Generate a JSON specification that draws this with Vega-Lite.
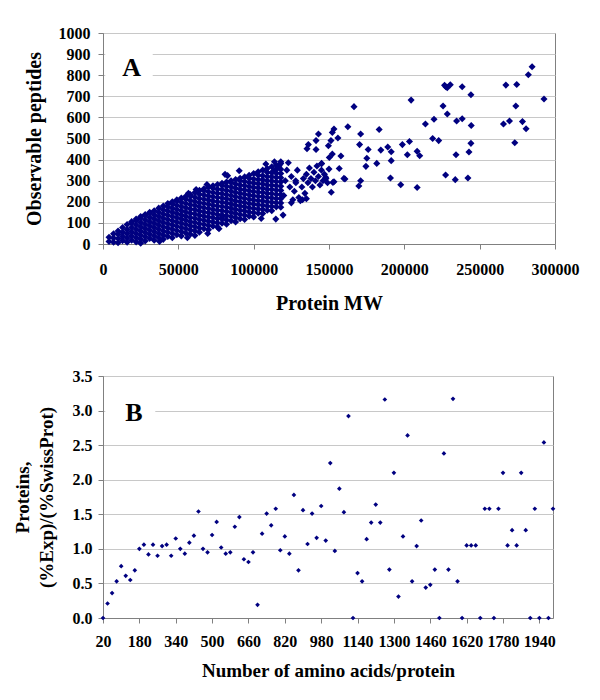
{
  "$schema": "https://vega.github.io/schema/vega-lite/v6.json",
  "background": "white",
  "padding": {"left": 12, "top": 24, "right": 5, "bottom": 5},
  "spacing": 53,
  "datasets": {
    "peptides": [
      {"mw":4000,"peptides":12},{"mw":4000,"peptides":32},
      {"mw":7000,"peptides":8},{"mw":7000,"peptides":28},{"mw":7000,"peptides":48},
      {"mw":10000,"peptides":6},{"mw":10000,"peptides":26},{"mw":10000,"peptides":46},{"mw":10000,"peptides":62},
      {"mw":13000,"peptides":16},{"mw":13000,"peptides":36},{"mw":13000,"peptides":56},{"mw":13000,"peptides":78},
      {"mw":16000,"peptides":8},{"mw":16000,"peptides":28},{"mw":16000,"peptides":48},{"mw":16000,"peptides":68},{"mw":16000,"peptides":92},
      {"mw":19000,"peptides":18},{"mw":19000,"peptides":38},{"mw":19000,"peptides":58},{"mw":19000,"peptides":78},{"mw":19000,"peptides":98},{"mw":19000,"peptides":106},
      {"mw":22000,"peptides":10},{"mw":22000,"peptides":30},{"mw":22000,"peptides":50},{"mw":22000,"peptides":70},{"mw":22000,"peptides":90},{"mw":22000,"peptides":110},{"mw":22000,"peptides":118},
      {"mw":25000,"peptides":22},{"mw":25000,"peptides":42},{"mw":25000,"peptides":62},{"mw":25000,"peptides":82},{"mw":25000,"peptides":102},{"mw":25000,"peptides":122},{"mw":25000,"peptides":130},
      {"mw":28000,"peptides":14},{"mw":28000,"peptides":34},{"mw":28000,"peptides":54},{"mw":28000,"peptides":74},{"mw":28000,"peptides":94},{"mw":28000,"peptides":114},{"mw":28000,"peptides":134},{"mw":28000,"peptides":140},
      {"mw":31000,"peptides":26},{"mw":31000,"peptides":46},{"mw":31000,"peptides":66},{"mw":31000,"peptides":86},{"mw":31000,"peptides":106},{"mw":31000,"peptides":126},{"mw":31000,"peptides":146},{"mw":31000,"peptides":150},
      {"mw":34000,"peptides":18},{"mw":34000,"peptides":38},{"mw":34000,"peptides":58},{"mw":34000,"peptides":78},{"mw":34000,"peptides":98},{"mw":34000,"peptides":118},{"mw":34000,"peptides":138},{"mw":34000,"peptides":158},
      {"mw":37000,"peptides":30},{"mw":37000,"peptides":50},{"mw":37000,"peptides":70},{"mw":37000,"peptides":90},{"mw":37000,"peptides":110},{"mw":37000,"peptides":130},{"mw":37000,"peptides":150},{"mw":37000,"peptides":170},
      {"mw":40000,"peptides":22},{"mw":40000,"peptides":42},{"mw":40000,"peptides":62},{"mw":40000,"peptides":82},{"mw":40000,"peptides":102},{"mw":40000,"peptides":122},{"mw":40000,"peptides":142},{"mw":40000,"peptides":162},{"mw":40000,"peptides":180},
      {"mw":43000,"peptides":36},{"mw":43000,"peptides":56},{"mw":43000,"peptides":76},{"mw":43000,"peptides":96},{"mw":43000,"peptides":116},{"mw":43000,"peptides":136},{"mw":43000,"peptides":156},{"mw":43000,"peptides":176},{"mw":43000,"peptides":192},
      {"mw":46000,"peptides":30},{"mw":46000,"peptides":50},{"mw":46000,"peptides":70},{"mw":46000,"peptides":90},{"mw":46000,"peptides":110},{"mw":46000,"peptides":130},{"mw":46000,"peptides":150},{"mw":46000,"peptides":170},{"mw":46000,"peptides":190},{"mw":46000,"peptides":200},
      {"mw":49000,"peptides":44},{"mw":49000,"peptides":64},{"mw":49000,"peptides":84},{"mw":49000,"peptides":104},{"mw":49000,"peptides":124},{"mw":49000,"peptides":144},{"mw":49000,"peptides":164},{"mw":49000,"peptides":184},{"mw":49000,"peptides":204},{"mw":49000,"peptides":210},
      {"mw":52000,"peptides":38},{"mw":52000,"peptides":58},{"mw":52000,"peptides":78},{"mw":52000,"peptides":98},{"mw":52000,"peptides":118},{"mw":52000,"peptides":138},{"mw":52000,"peptides":158},{"mw":52000,"peptides":178},{"mw":52000,"peptides":198},{"mw":52000,"peptides":218},
      {"mw":55000,"peptides":52},{"mw":55000,"peptides":72},{"mw":55000,"peptides":92},{"mw":55000,"peptides":112},{"mw":55000,"peptides":132},{"mw":55000,"peptides":152},{"mw":55000,"peptides":172},{"mw":55000,"peptides":192},{"mw":55000,"peptides":212},{"mw":55000,"peptides":226},
      {"mw":58000,"peptides":46},{"mw":58000,"peptides":66},{"mw":58000,"peptides":86},{"mw":58000,"peptides":106},{"mw":58000,"peptides":126},{"mw":58000,"peptides":146},{"mw":58000,"peptides":166},{"mw":58000,"peptides":186},{"mw":58000,"peptides":206},{"mw":58000,"peptides":226},{"mw":58000,"peptides":234},
      {"mw":61000,"peptides":62},{"mw":61000,"peptides":82},{"mw":61000,"peptides":102},{"mw":61000,"peptides":122},{"mw":61000,"peptides":142},{"mw":61000,"peptides":162},{"mw":61000,"peptides":182},{"mw":61000,"peptides":202},{"mw":61000,"peptides":222},{"mw":61000,"peptides":244},
      {"mw":64000,"peptides":56},{"mw":64000,"peptides":76},{"mw":64000,"peptides":96},{"mw":64000,"peptides":116},{"mw":64000,"peptides":136},{"mw":64000,"peptides":156},{"mw":64000,"peptides":176},{"mw":64000,"peptides":196},{"mw":64000,"peptides":216},{"mw":64000,"peptides":236},{"mw":64000,"peptides":254},
      {"mw":67000,"peptides":72},{"mw":67000,"peptides":92},{"mw":67000,"peptides":112},{"mw":67000,"peptides":132},{"mw":67000,"peptides":152},{"mw":67000,"peptides":172},{"mw":67000,"peptides":192},{"mw":67000,"peptides":212},{"mw":67000,"peptides":232},{"mw":67000,"peptides":252},{"mw":67000,"peptides":262},
      {"mw":70000,"peptides":68},{"mw":70000,"peptides":88},{"mw":70000,"peptides":108},{"mw":70000,"peptides":128},{"mw":70000,"peptides":148},{"mw":70000,"peptides":168},{"mw":70000,"peptides":188},{"mw":70000,"peptides":208},{"mw":70000,"peptides":228},{"mw":70000,"peptides":248},{"mw":70000,"peptides":270},
      {"mw":73000,"peptides":84},{"mw":73000,"peptides":104},{"mw":73000,"peptides":124},{"mw":73000,"peptides":144},{"mw":73000,"peptides":164},{"mw":73000,"peptides":184},{"mw":73000,"peptides":204},{"mw":73000,"peptides":224},{"mw":73000,"peptides":244},{"mw":73000,"peptides":264},{"mw":73000,"peptides":276},
      {"mw":76000,"peptides":80},{"mw":76000,"peptides":100},{"mw":76000,"peptides":120},{"mw":76000,"peptides":140},{"mw":76000,"peptides":160},{"mw":76000,"peptides":180},{"mw":76000,"peptides":200},{"mw":76000,"peptides":220},{"mw":76000,"peptides":240},{"mw":76000,"peptides":260},{"mw":76000,"peptides":282},
      {"mw":79000,"peptides":98},{"mw":79000,"peptides":118},{"mw":79000,"peptides":138},{"mw":79000,"peptides":158},{"mw":79000,"peptides":178},{"mw":79000,"peptides":198},{"mw":79000,"peptides":218},{"mw":79000,"peptides":238},{"mw":79000,"peptides":258},{"mw":79000,"peptides":278},{"mw":79000,"peptides":288},
      {"mw":82000,"peptides":94},{"mw":82000,"peptides":114},{"mw":82000,"peptides":134},{"mw":82000,"peptides":154},{"mw":82000,"peptides":174},{"mw":82000,"peptides":194},{"mw":82000,"peptides":214},{"mw":82000,"peptides":234},{"mw":82000,"peptides":254},{"mw":82000,"peptides":274},{"mw":82000,"peptides":294},
      {"mw":85000,"peptides":110},{"mw":85000,"peptides":130},{"mw":85000,"peptides":150},{"mw":85000,"peptides":170},{"mw":85000,"peptides":190},{"mw":85000,"peptides":210},{"mw":85000,"peptides":230},{"mw":85000,"peptides":250},{"mw":85000,"peptides":270},{"mw":85000,"peptides":290},{"mw":85000,"peptides":300},
      {"mw":88000,"peptides":104},{"mw":88000,"peptides":124},{"mw":88000,"peptides":144},{"mw":88000,"peptides":164},{"mw":88000,"peptides":184},{"mw":88000,"peptides":204},{"mw":88000,"peptides":224},{"mw":88000,"peptides":244},{"mw":88000,"peptides":264},{"mw":88000,"peptides":284},{"mw":88000,"peptides":306},
      {"mw":91000,"peptides":120},{"mw":91000,"peptides":140},{"mw":91000,"peptides":160},{"mw":91000,"peptides":180},{"mw":91000,"peptides":200},{"mw":91000,"peptides":220},{"mw":91000,"peptides":240},{"mw":91000,"peptides":260},{"mw":91000,"peptides":280},{"mw":91000,"peptides":300},{"mw":91000,"peptides":312},
      {"mw":94000,"peptides":116},{"mw":94000,"peptides":136},{"mw":94000,"peptides":156},{"mw":94000,"peptides":176},{"mw":94000,"peptides":196},{"mw":94000,"peptides":216},{"mw":94000,"peptides":236},{"mw":94000,"peptides":256},{"mw":94000,"peptides":276},{"mw":94000,"peptides":296},{"mw":94000,"peptides":318},
      {"mw":97000,"peptides":132},{"mw":97000,"peptides":152},{"mw":97000,"peptides":172},{"mw":97000,"peptides":192},{"mw":97000,"peptides":212},{"mw":97000,"peptides":232},{"mw":97000,"peptides":252},{"mw":97000,"peptides":272},{"mw":97000,"peptides":292},{"mw":97000,"peptides":312},{"mw":97000,"peptides":326},
      {"mw":100000,"peptides":128},{"mw":100000,"peptides":148},{"mw":100000,"peptides":168},{"mw":100000,"peptides":188},{"mw":100000,"peptides":208},{"mw":100000,"peptides":228},{"mw":100000,"peptides":248},{"mw":100000,"peptides":268},{"mw":100000,"peptides":288},{"mw":100000,"peptides":308},{"mw":100000,"peptides":334},
      {"mw":103000,"peptides":146},{"mw":103000,"peptides":166},{"mw":103000,"peptides":186},{"mw":103000,"peptides":206},{"mw":103000,"peptides":226},{"mw":103000,"peptides":246},{"mw":103000,"peptides":266},{"mw":103000,"peptides":286},{"mw":103000,"peptides":306},{"mw":103000,"peptides":326},{"mw":103000,"peptides":342},
      {"mw":106000,"peptides":144},{"mw":106000,"peptides":164},{"mw":106000,"peptides":184},{"mw":106000,"peptides":204},{"mw":106000,"peptides":224},{"mw":106000,"peptides":244},{"mw":106000,"peptides":264},{"mw":106000,"peptides":284},{"mw":106000,"peptides":304},{"mw":106000,"peptides":324},{"mw":106000,"peptides":350},
      {"mw":109000,"peptides":160},{"mw":109000,"peptides":180},{"mw":109000,"peptides":200},{"mw":109000,"peptides":220},{"mw":109000,"peptides":240},{"mw":109000,"peptides":260},{"mw":109000,"peptides":280},{"mw":109000,"peptides":300},{"mw":109000,"peptides":320},{"mw":109000,"peptides":340},{"mw":109000,"peptides":358},
      {"mw":112000,"peptides":158},{"mw":112000,"peptides":178},{"mw":112000,"peptides":198},{"mw":112000,"peptides":218},{"mw":112000,"peptides":238},{"mw":112000,"peptides":258},{"mw":112000,"peptides":278},{"mw":112000,"peptides":298},{"mw":112000,"peptides":318},{"mw":112000,"peptides":338},{"mw":112000,"peptides":366},
      {"mw":115000,"peptides":176},{"mw":115000,"peptides":196},{"mw":115000,"peptides":216},{"mw":115000,"peptides":236},{"mw":115000,"peptides":256},{"mw":115000,"peptides":276},{"mw":115000,"peptides":296},{"mw":115000,"peptides":316},{"mw":115000,"peptides":336},{"mw":115000,"peptides":356},{"mw":115000,"peptides":374},
      {"mw":118000,"peptides":174},{"mw":118000,"peptides":194},{"mw":118000,"peptides":214},{"mw":118000,"peptides":234},{"mw":118000,"peptides":254},{"mw":118000,"peptides":274},{"mw":118000,"peptides":294},{"mw":118000,"peptides":314},{"mw":118000,"peptides":334},{"mw":118000,"peptides":354},{"mw":118000,"peptides":382},
      {"mw":25000,"peptides":4},{"mw":37500,"peptides":12},{"mw":56000,"peptides":30},{"mw":69500,"peptides":50},{"mw":61000,"peptides":40},
      {"mw":56700,"peptides":240},{"mw":61800,"peptides":258},{"mw":69000,"peptides":282},
      {"mw":77000,"peptides":72},{"mw":79000,"peptides":128},{"mw":82700,"peptides":324},{"mw":81000,"peptides":330},{"mw":90400,"peptides":347},
      {"mw":105000,"peptides":121},{"mw":114700,"peptides":118},{"mw":119500,"peptides":137},{"mw":113800,"peptides":390},{"mw":108100,"peptides":379},{"mw":116900,"peptides":371},
      {"mw":120000,"peptides":230},{"mw":121000,"peptides":300},{"mw":122000,"peptides":350},{"mw":123000,"peptides":385},{"mw":124000,"peptides":270},
      {"mw":125000,"peptides":320},{"mw":126000,"peptides":210},{"mw":127000,"peptides":250},{"mw":128000,"peptides":290},{"mw":129000,"peptides":350},
      {"mw":130000,"peptides":220},{"mw":131000,"peptides":205},{"mw":132000,"peptides":270},{"mw":133000,"peptides":310},{"mw":134000,"peptides":240},
      {"mw":135000,"peptides":330},{"mw":136000,"peptides":290},{"mw":137000,"peptides":360},{"mw":138000,"peptides":310},{"mw":139000,"peptides":270},
      {"mw":140000,"peptides":340},{"mw":141000,"peptides":300},{"mw":142000,"peptides":370},{"mw":143000,"peptides":320},{"mw":144000,"peptides":280},
      {"mw":145000,"peptides":350},{"mw":146000,"peptides":300},{"mw":147000,"peptides":330},{"mw":148000,"peptides":310},{"mw":149000,"peptides":290},
      {"mw":145000,"peptides":380},{"mw":118000,"peptides":390},{"mw":116000,"peptides":360},{"mw":113000,"peptides":345},{"mw":125000,"peptides":195},
      {"mw":135000,"peptides":215},{"mw":132400,"peptides":210},{"mw":127900,"peptides":300},{"mw":145100,"peptides":382},{"mw":147800,"peptides":316},
      {"mw":143000,"peptides":521},{"mw":141400,"peptides":490},{"mw":136300,"peptides":471},{"mw":135400,"peptides":452},{"mw":141400,"peptides":448},
      {"mw":153300,"peptides":545},{"mw":152200,"peptides":529},{"mw":155900,"peptides":502},{"mw":151300,"peptides":490},{"mw":149600,"peptides":466},
      {"mw":152200,"peptides":426},{"mw":150200,"peptides":410},{"mw":157900,"peptides":417},{"mw":150000,"peptides":355},{"mw":156800,"peptides":358},
      {"mw":152600,"peptides":292},{"mw":151500,"peptides":245},{"mw":159900,"peptides":311},{"mw":162500,"peptides":556},{"mw":166600,"peptides":651},
      {"mw":171000,"peptides":521},{"mw":170300,"peptides":471},{"mw":176000,"peptides":448},{"mw":175100,"peptides":406},{"mw":174500,"peptides":368},
      {"mw":171000,"peptides":300},{"mw":169800,"peptides":275},{"mw":183300,"peptides":543},{"mw":184400,"peptides":445},{"mw":189000,"peptides":460},
      {"mw":191300,"peptides":437},{"mw":191300,"peptides":395},{"mw":181700,"peptides":382},{"mw":190800,"peptides":313},{"mw":197600,"peptides":281},
      {"mw":198700,"peptides":471},{"mw":203400,"peptides":486},{"mw":202000,"peptides":423},{"mw":204500,"peptides":682},{"mw":208500,"peptides":439},
      {"mw":210200,"peptides":418},{"mw":208500,"peptides":268},{"mw":214000,"peptides":569},{"mw":219700,"peptides":591},{"mw":218800,"peptides":500},
      {"mw":222800,"peptides":490},{"mw":225700,"peptides":654},{"mw":228500,"peptides":616},{"mw":226700,"peptides":752},{"mw":228500,"peptides":741},
      {"mw":230500,"peptides":755},{"mw":227500,"peptides":745},{"mw":234700,"peptides":583},{"mw":238400,"peptides":594},{"mw":244400,"peptides":562},
      {"mw":238400,"peptides":745},{"mw":244200,"peptides":707},{"mw":244200,"peptides":477},{"mw":242900,"peptides":436},{"mw":234300,"peptides":423},
      {"mw":227400,"peptides":327},{"mw":233800,"peptides":305},{"mw":242200,"peptides":313},{"mw":267400,"peptides":753},{"mw":274600,"peptides":756},
      {"mw":282300,"peptides":802},{"mw":284800,"peptides":840},{"mw":292700,"peptides":687},{"mw":274000,"peptides":654},{"mw":265800,"peptides":569},
      {"mw":269800,"peptides":583},{"mw":278400,"peptides":580},{"mw":280800,"peptides":546},{"mw":273300,"peptides":480},{"mw":160600,"peptides":308},
      {"mw":153300,"peptides":295}
    ],
    "lengths": [
      {"length":20,"ratio":0.00},{"length":40,"ratio":0.21},{"length":60,"ratio":0.36},{"length":80,"ratio":0.53},{"length":100,"ratio":0.75},
      {"length":120,"ratio":0.61},{"length":140,"ratio":0.55},{"length":160,"ratio":0.69},{"length":180,"ratio":1.00},{"length":200,"ratio":1.06},
      {"length":220,"ratio":0.92},{"length":240,"ratio":1.06},{"length":260,"ratio":0.90},{"length":280,"ratio":1.04},{"length":300,"ratio":1.06},
      {"length":320,"ratio":0.90},{"length":340,"ratio":1.15},{"length":360,"ratio":1.00},{"length":380,"ratio":0.93},{"length":400,"ratio":1.09},
      {"length":420,"ratio":1.19},{"length":440,"ratio":1.54},{"length":460,"ratio":1.00},{"length":480,"ratio":0.95},{"length":500,"ratio":1.20},
      {"length":520,"ratio":1.39},{"length":540,"ratio":1.02},{"length":560,"ratio":0.93},{"length":580,"ratio":0.95},{"length":600,"ratio":1.32},
      {"length":620,"ratio":1.46},{"length":640,"ratio":0.85},{"length":660,"ratio":0.81},{"length":680,"ratio":0.95},{"length":700,"ratio":0.19},
      {"length":720,"ratio":1.22},{"length":740,"ratio":1.51},{"length":760,"ratio":1.34},{"length":780,"ratio":1.58},{"length":800,"ratio":0.98},
      {"length":820,"ratio":1.18},{"length":840,"ratio":0.93},{"length":860,"ratio":1.78},{"length":880,"ratio":0.69},{"length":900,"ratio":1.56},
      {"length":920,"ratio":1.07},{"length":940,"ratio":1.51},{"length":960,"ratio":1.16},{"length":980,"ratio":1.62},{"length":1000,"ratio":1.12},
      {"length":1020,"ratio":2.24},{"length":1040,"ratio":0.97},{"length":1060,"ratio":1.87},{"length":1080,"ratio":1.53},{"length":1100,"ratio":2.92},
      {"length":1120,"ratio":0.00},{"length":1140,"ratio":0.65},{"length":1160,"ratio":0.53},{"length":1180,"ratio":1.14},{"length":1200,"ratio":1.38},
      {"length":1220,"ratio":1.64},{"length":1240,"ratio":1.38},{"length":1260,"ratio":3.16},{"length":1280,"ratio":0.70},{"length":1300,"ratio":2.10},
      {"length":1320,"ratio":0.31},{"length":1340,"ratio":1.18},{"length":1360,"ratio":2.64},{"length":1380,"ratio":0.53},{"length":1400,"ratio":1.04},
      {"length":1420,"ratio":1.41},{"length":1440,"ratio":0.44},{"length":1460,"ratio":0.48},{"length":1480,"ratio":0.70},{"length":1500,"ratio":0.00},
      {"length":1520,"ratio":2.38},{"length":1540,"ratio":0.70},{"length":1560,"ratio":3.17},{"length":1580,"ratio":0.53},{"length":1600,"ratio":0.00},
      {"length":1620,"ratio":1.05},{"length":1640,"ratio":1.05},{"length":1660,"ratio":1.05},{"length":1680,"ratio":0.00},{"length":1700,"ratio":1.58},
      {"length":1720,"ratio":1.58},{"length":1740,"ratio":0.00},{"length":1760,"ratio":1.58},{"length":1780,"ratio":2.10},{"length":1800,"ratio":1.05},
      {"length":1820,"ratio":1.27},{"length":1840,"ratio":1.05},{"length":1860,"ratio":2.10},{"length":1880,"ratio":1.27},{"length":1900,"ratio":0.00},
      {"length":1920,"ratio":1.58},{"length":1940,"ratio":0.00},{"length":1960,"ratio":2.54},{"length":1980,"ratio":0.00},{"length":2000,"ratio":1.58}
    ]
  },
  "vconcat": [
    {
      "width": 452,
      "height": 211,
      "layer": [
        {
          "data": {"name": "peptides"},
          "mark": {"type": "point", "shape": "diamond", "filled": true, "size": 50, "color": "#000080", "opacity": 1},
          "encoding": {
            "x": {
              "field": "mw", "type": "quantitative", "title": "Protein MW",
              "scale": {"domain": [0, 300000], "nice": false, "zero": false},
              "axis": {"values": [0, 50000, 100000, 150000, 200000, 250000, 300000], "tickCount": 30, "format": "d", "grid": false, "labelOverlap": false, "labelFlush": false, "labelPadding": 12, "titlePadding": 16}
            },
            "y": {
              "field": "peptides", "type": "quantitative", "title": "Observable peptides",
              "scale": {"domain": [0, 1000], "nice": false},
              "axis": {"values": [0, 100, 200, 300, 400, 500, 600, 700, 800, 900, 1000], "tickCount": 30, "format": "d", "grid": true, "labelOverlap": false, "labelFlush": false, "labelPadding": 8, "titlePadding": 14}
            }
          }
        },
        {
          "data": {"values": [{}]},
          "mark": {"type": "rect", "fill": "white"},
          "encoding": {
            "x": {"datum": 1500, "type": "quantitative"}, "x2": {"datum": 33000},
            "y": {"datum": 735, "type": "quantitative"}, "y2": {"datum": 960}
          }
        },
        {
          "data": {"values": [{}]},
          "mark": {"type": "text", "text": "A", "font": "Liberation Serif", "fontSize": 26, "fontWeight": "bold", "color": "black", "baseline": "middle", "align": "center"},
          "encoding": {
            "x": {"datum": 19000, "type": "quantitative"},
            "y": {"datum": 833, "type": "quantitative"}
          }
        }
      ]
    },
    {
      "width": 450,
      "height": 242,
      "layer": [
        {
          "data": {"name": "lengths"},
          "mark": {"type": "point", "shape": "diamond", "filled": true, "size": 22, "color": "#000080", "opacity": 1},
          "encoding": {
            "x": {
              "field": "length", "type": "quantitative", "title": "Number of amino acids/protein",
              "scale": {"domain": [20, 2000], "nice": false, "zero": false},
              "axis": {"values": [20, 180, 340, 500, 660, 820, 980, 1140, 1300, 1460, 1620, 1780, 1940], "tickCount": 30, "format": "d", "grid": false, "labelOverlap": false, "labelFlush": false, "labelPadding": 10, "titlePadding": 12, "titleFontSize": 19}
            },
            "y": {
              "field": "ratio", "type": "quantitative", "title": ["Proteins,", "(%Exp)/(%SwissProt)"],
              "scale": {"domain": [0, 3.5], "nice": false},
              "axis": {"values": [0, 0.5, 1, 1.5, 2, 2.5, 3, 3.5], "tickCount": 30, "format": ".1f", "grid": true, "labelOverlap": false, "labelFlush": false, "labelPadding": 6, "titlePadding": 16, "titleFontSize": 19, "titleLineHeight": 24}
            }
          }
        },
        {
          "data": {"values": [{}]},
          "mark": {"type": "rect", "fill": "white"},
          "encoding": {
            "x": {"datum": 30, "type": "quantitative"}, "x2": {"datum": 250},
            "y": {"datum": 2.75, "type": "quantitative"}, "y2": {"datum": 3.3}
          }
        },
        {
          "data": {"values": [{}]},
          "mark": {"type": "text", "text": "B", "font": "Liberation Serif", "fontSize": 26, "fontWeight": "bold", "color": "black", "baseline": "middle", "align": "center"},
          "encoding": {
            "x": {"datum": 156, "type": "quantitative"},
            "y": {"datum": 2.97, "type": "quantitative"}
          }
        }
      ]
    }
  ],
  "config": {
    "font": "Liberation Serif",
    "view": {"stroke": "#808080", "strokeWidth": 1},
    "axis": {
      "labelFont": "Liberation Serif", "labelFontWeight": "bold", "labelFontSize": 16, "labelColor": "black",
      "labelFlush": false, "labelOverlap": false,
      "titleFont": "Liberation Serif", "titleFontWeight": "bold", "titleFontSize": 20, "titleColor": "black",
      "domainColor": "#808080", "tickColor": "#808080", "tickSize": 5, "gridColor": "#c8c8c8"
    }
  }
}
